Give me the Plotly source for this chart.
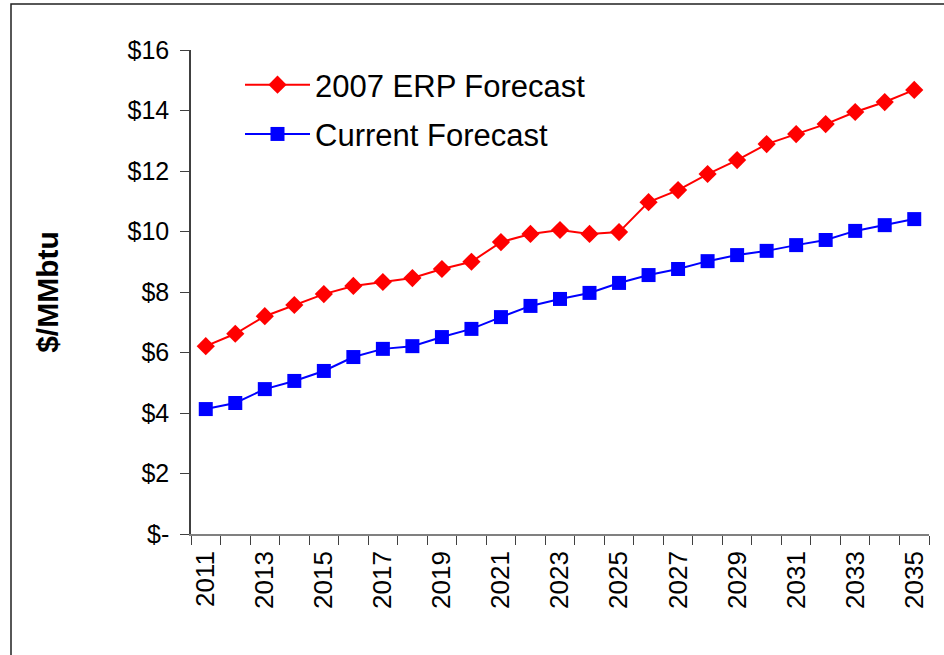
import plotly.graph_objects as go

years = list(range(2011, 2036))
erp_2007 = [6.21, 6.62, 7.2, 7.57, 7.93, 8.2, 8.33, 8.46, 8.76, 9.0, 9.65, 9.92, 10.05, 9.92, 9.98,
            10.97, 11.37, 11.9, 12.36, 12.89, 13.22, 13.55, 13.95, 14.28, 14.68]
current = [4.13, 4.33, 4.79, 5.06, 5.39, 5.85, 6.12, 6.21, 6.51, 6.78, 7.17, 7.54, 7.77, 7.97, 8.3,
           8.56, 8.76, 9.02, 9.22, 9.36, 9.55, 9.72, 10.02, 10.21, 10.41]
ytick_vals = [0, 2, 4, 6, 8, 10, 12, 14, 16]
ytick_text = ["$-", "$2", "$4", "$6", "$8", "$10", "$12", "$14", "$16"]
xtick_vals = list(range(2011, 2036, 2))
xtick_text = [str(y) for y in xtick_vals]

fig = go.Figure()
fig.add_trace(go.Scatter(x=years, y=erp_2007, name="2007 ERP Forecast", mode="lines+markers",
                         legendgroup="a",
                         line=dict(color="#FF0000", width=2),
                         marker=dict(symbol="diamond", size=14, color="#FF0000")))
fig.add_trace(go.Scatter(x=years, y=current, name="Current Forecast", mode="lines+markers",
                         legendgroup="b",
                         line=dict(color="#0000FF", width=2),
                         marker=dict(symbol="square", size=14, color="#0000FF")))

L, R, T, B = 191, 15, 50, 121
W, H = 944, 655
pw, ph = W - L - R, H - T - B

fig.update_layout(
    width=W, height=H,
    margin=dict(l=L, r=R, t=T, b=B),
    paper_bgcolor="white", plot_bgcolor="white",
    font=dict(family="Arial, Liberation Sans, sans-serif", color="black"),
    showlegend=True,
    legend=dict(x=(240 - L) / pw, y=(534 - 58) / ph, xanchor="left", yanchor="top",
                font=dict(size=31), bgcolor="rgba(0,0,0,0)", traceorder="grouped",
                tracegroupgap=6, itemwidth=65),
    xaxis=dict(range=[2010.5, 2035.5], tickvals=xtick_vals, ticktext=xtick_text, tickangle=-90,
               ticks="", showgrid=False, zeroline=False, showline=True, linecolor="#808080",
               linewidth=1.5, tickfont=dict(size=26), ticklabelstandoff=5,
               minor=dict(tick0=2010.5, dtick=1, ticks="outside", ticklen=9, tickcolor="#404040",
                          showgrid=False)),
    yaxis=dict(range=[0, 16], tickvals=ytick_vals, ticktext=ytick_text, ticks="outside",
               ticklen=9, tickcolor="#404040", showgrid=False, zeroline=False, showline=True,
               linecolor="#404040", linewidth=1.5, tickfont=dict(size=25), ticklabelstandoff=6,
               title=dict(text="<b>$/MMbtu</b>", font=dict(size=30), standoff=60)),
    shapes=[dict(type="rect", xref="paper", yref="paper",
                 x0=(11 - L) / pw, x1=(960 - L) / pw,
                 y0=(534 - 670) / ph, y1=1 + (T - 4) / ph,
                 line=dict(color="#202020", width=1.5), fillcolor="rgba(0,0,0,0)")],
)

fig.write_html("out.html")
